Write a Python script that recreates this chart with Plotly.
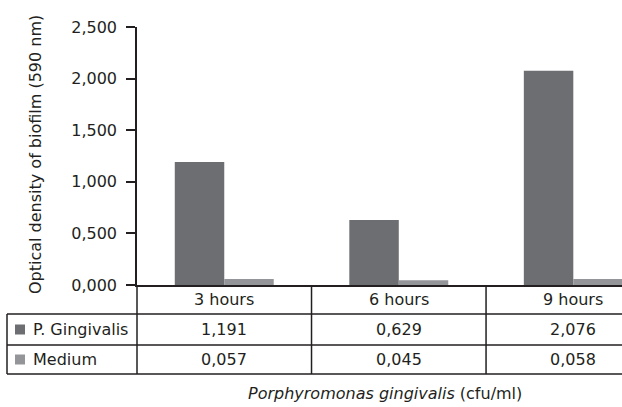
import plotly.graph_objects as go

categories = ["3 hours", "6 hours", "9 hours"]
series_names = ["P. Gingivalis", "Medium"]
pg_values = [1.191, 0.629, 2.076]
medium_values = [0.057, 0.045, 0.058]
series_values = [pg_values, medium_values]
series_colors = ["#6d6e71", "#939598"]
y_tickvals = [0, 0.5, 1.0, 1.5, 2.0, 2.5]

INK = "#231f20"
FONT = "DejaVu Sans"

W, H = 622, 407
L, R, T, B = 137, 0, 27, 122
plot_w = W - L - R
plot_h = H - T - B

x_min, x_max = -0.5, 2.279


def py(pix):
    """pixel y -> paper y"""
    return (H - B - pix) / plot_h


def px(pix):
    """pixel x -> paper x"""
    return (pix - L) / plot_w


fig = go.Figure()
for name, vals, col in zip(series_names, series_values, series_colors):
    fig.add_trace(go.Bar(x=list(range(len(categories))), y=vals, name=name,
                         marker=dict(color=col, line=dict(width=0))))

fig.update_layout(
    width=W, height=H,
    margin=dict(l=L, r=R, t=T, b=B, pad=0),
    plot_bgcolor="white", paper_bgcolor="white",
    barmode="group", bargap=0.433, bargroupgap=0,
    showlegend=False,
    separators=",.",
    font=dict(family=FONT, size=16, color=INK),
)
fig.update_xaxes(range=[x_min, x_max], showticklabels=False, ticks="",
                 showgrid=False, zeroline=False, showline=True,
                 linecolor=INK, linewidth=2)
fig.update_yaxes(range=[0, 2.5], tickvals=y_tickvals, tickformat=".3f",
                 ticks="outside", ticklen=9, tickwidth=1.5, tickcolor=INK,
                 ticklabelstandoff=6,
                 showgrid=False, zeroline=False, showline=True,
                 linecolor=INK, linewidth=1.5,
                 tickfont=dict(family=FONT, size=16, color=INK))

shapes = []
line = dict(color=INK, width=1.5)
row_lines = [314, 345, 374]
for yl in row_lines:
    shapes.append(dict(type="line", xref="paper", yref="paper",
                       x0=px(7), x1=1, y0=py(yl), y1=py(yl), line=line))
# left border of row-label column
shapes.append(dict(type="line", xref="paper", yref="paper",
                   x0=px(7), x1=px(7), y0=py(314), y1=py(374), line=line))
# y axis extension through table
shapes.append(dict(type="line", xref="paper", yref="paper",
                   x0=0, x1=0, y0=0, y1=py(374), line=line))
# category dividers
for i in range(len(categories) - 1):
    shapes.append(dict(type="line", xref="x", yref="paper",
                       x0=i + 0.5, x1=i + 0.5, y0=0, y1=py(374), line=line))
# legend squares
row_centers = [329.5, 359.5]
for rc, col in zip(row_centers, series_colors):
    shapes.append(dict(type="rect", xref="paper", yref="paper",
                       x0=px(15), x1=px(25), y0=py(rc + 5), y1=py(rc - 5),
                       fillcolor=col, line=dict(width=0)))
fig.update_layout(shapes=shapes)

ann = []
for i, c in enumerate(categories):
    ann.append(dict(text=c, x=i, y=py(299.5), xref="x", yref="paper",
                    showarrow=False, xanchor="center", yanchor="middle"))
for rc, name, vals in zip(row_centers, series_names, series_values):
    ann.append(dict(text=name, x=px(31), y=py(rc), xref="paper", yref="paper",
                    showarrow=False, xanchor="left", yanchor="middle"))
    for i, v in enumerate(vals):
        ann.append(dict(text=f"{v:.3f}".replace(".", ","), x=i, y=py(rc),
                        xref="x", yref="paper", showarrow=False,
                        xanchor="center", yanchor="middle"))
ann.append(dict(text="Optical density of biofilm (590 nm)", textangle=-90,
                x=px(35), y=py(155), xref="paper", yref="paper",
                showarrow=False, xanchor="center", yanchor="middle"))
ann.append(dict(text="<i>Porphyromonas gingivalis</i> (cfu/ml)",
                x=px(385), y=py(394), xref="paper", yref="paper",
                showarrow=False, xanchor="center", yanchor="middle"))
fig.update_layout(annotations=ann)

fig.write_html("out.html",
               config={"displayModeBar": False},
               post_script="document.body.style.margin='0';"
                           "document.body.style.overflow='hidden';")
